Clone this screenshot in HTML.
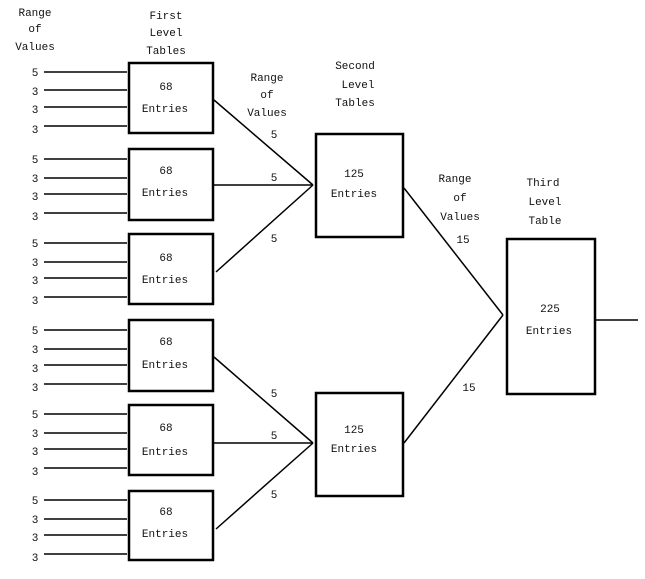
<!DOCTYPE html>
<html><head><style>
html,body{margin:0;padding:0;background:#fff;}
svg text{font-family:"Liberation Mono",monospace;font-size:11px;fill:#111;text-anchor:middle;}
</style></head><body>
<svg width="645" height="574" viewBox="0 0 645 574" xmlns="http://www.w3.org/2000/svg">
<g fill="none" stroke="#000">
<g stroke-width="2.5">
<rect x="129" y="63" width="84" height="70"/>
<rect x="129" y="149" width="84" height="71"/>
<rect x="129" y="234" width="84" height="70"/>
<rect x="129" y="320" width="84" height="71"/>
<rect x="129" y="405" width="84" height="70"/>
<rect x="129" y="491" width="84" height="69"/>
<rect x="316" y="134" width="87" height="103"/>
<rect x="316" y="393" width="87" height="103"/>
<rect x="507" y="239" width="88" height="155"/>
</g>
<g stroke-width="1.5">
<line x1="44" y1="72" x2="127" y2="72"/><line x1="44" y1="90" x2="127" y2="90"/><line x1="44" y1="107" x2="127" y2="107"/><line x1="44" y1="126" x2="127" y2="126"/>
<line x1="44" y1="159" x2="127" y2="159"/><line x1="44" y1="178" x2="127" y2="178"/><line x1="44" y1="194" x2="127" y2="194"/><line x1="44" y1="213" x2="127" y2="213"/>
<line x1="44" y1="243" x2="127" y2="243"/><line x1="44" y1="262" x2="127" y2="262"/><line x1="44" y1="278" x2="127" y2="278"/><line x1="44" y1="297" x2="127" y2="297"/>
<line x1="44" y1="330" x2="127" y2="330"/><line x1="44" y1="349" x2="127" y2="349"/><line x1="44" y1="365" x2="127" y2="365"/><line x1="44" y1="384" x2="127" y2="384"/>
<line x1="44" y1="414" x2="127" y2="414"/><line x1="44" y1="433" x2="127" y2="433"/><line x1="44" y1="449" x2="127" y2="449"/><line x1="44" y1="468" x2="127" y2="468"/>
<line x1="44" y1="500" x2="127" y2="500"/><line x1="44" y1="519" x2="127" y2="519"/><line x1="44" y1="535" x2="127" y2="535"/><line x1="44" y1="554" x2="127" y2="554"/>
<line x1="214" y1="100" x2="313" y2="185"/>
<line x1="214" y1="185" x2="313" y2="185"/>
<line x1="216" y1="272" x2="313" y2="185"/>
<line x1="214" y1="357" x2="313" y2="443"/>
<line x1="214" y1="443" x2="313" y2="443"/>
<line x1="216" y1="529" x2="313" y2="443"/>
<line x1="404" y1="188" x2="503" y2="315"/>
<line x1="404" y1="443" x2="503" y2="315"/>
<line x1="596" y1="320" x2="638" y2="320"/>
</g>
</g>
<g>
<text x="35" y="16">Range</text><text x="35" y="32">of</text><text x="35" y="50">Values</text>
<text x="166" y="19">First</text><text x="166" y="36">Level</text><text x="166" y="54">Tables</text>
<text x="267" y="81">Range</text><text x="267" y="98">of</text><text x="267" y="116">Values</text>
<text x="355" y="69">Second</text><text x="358" y="88">Level</text><text x="355" y="106">Tables</text>
<text x="455" y="182">Range</text><text x="460" y="201">of</text><text x="460" y="220">Values</text>
<text x="543" y="186">Third</text><text x="545" y="205">Level</text><text x="545" y="224">Table</text>
<text x="274" y="138">5</text><text x="274" y="181">5</text><text x="274" y="242">5</text>
<text x="274" y="397">5</text><text x="274" y="439">5</text><text x="274" y="498">5</text>
<text x="463" y="243">15</text><text x="469" y="391">15</text>
<text x="35" y="76">5</text><text x="35" y="95">3</text><text x="35" y="113">3</text><text x="35" y="133">3</text>
<text x="35" y="163">5</text><text x="35" y="182">3</text><text x="35" y="200">3</text><text x="35" y="220">3</text>
<text x="35" y="247">5</text><text x="35" y="266">3</text><text x="35" y="284">3</text><text x="35" y="304">3</text>
<text x="35" y="334">5</text><text x="35" y="353">3</text><text x="35" y="372">3</text><text x="35" y="391">3</text>
<text x="35" y="418">5</text><text x="35" y="437">3</text><text x="35" y="455">3</text><text x="35" y="475">3</text>
<text x="35" y="504">5</text><text x="35" y="523">3</text><text x="35" y="541">3</text><text x="35" y="561">3</text>
<text x="166" y="90">68</text><text x="165" y="112">Entries</text>
<text x="166" y="174">68</text><text x="165" y="196">Entries</text>
<text x="166" y="261">68</text><text x="165" y="283">Entries</text>
<text x="166" y="345">68</text><text x="165" y="368">Entries</text>
<text x="166" y="431">68</text><text x="165" y="455">Entries</text>
<text x="166" y="515">68</text><text x="165" y="537">Entries</text>
<text x="354" y="177">125</text><text x="354" y="197">Entries</text>
<text x="354" y="433">125</text><text x="354" y="452">Entries</text>
<text x="550" y="312">225</text><text x="549" y="334">Entries</text>
</g>
</svg>
</body></html>
